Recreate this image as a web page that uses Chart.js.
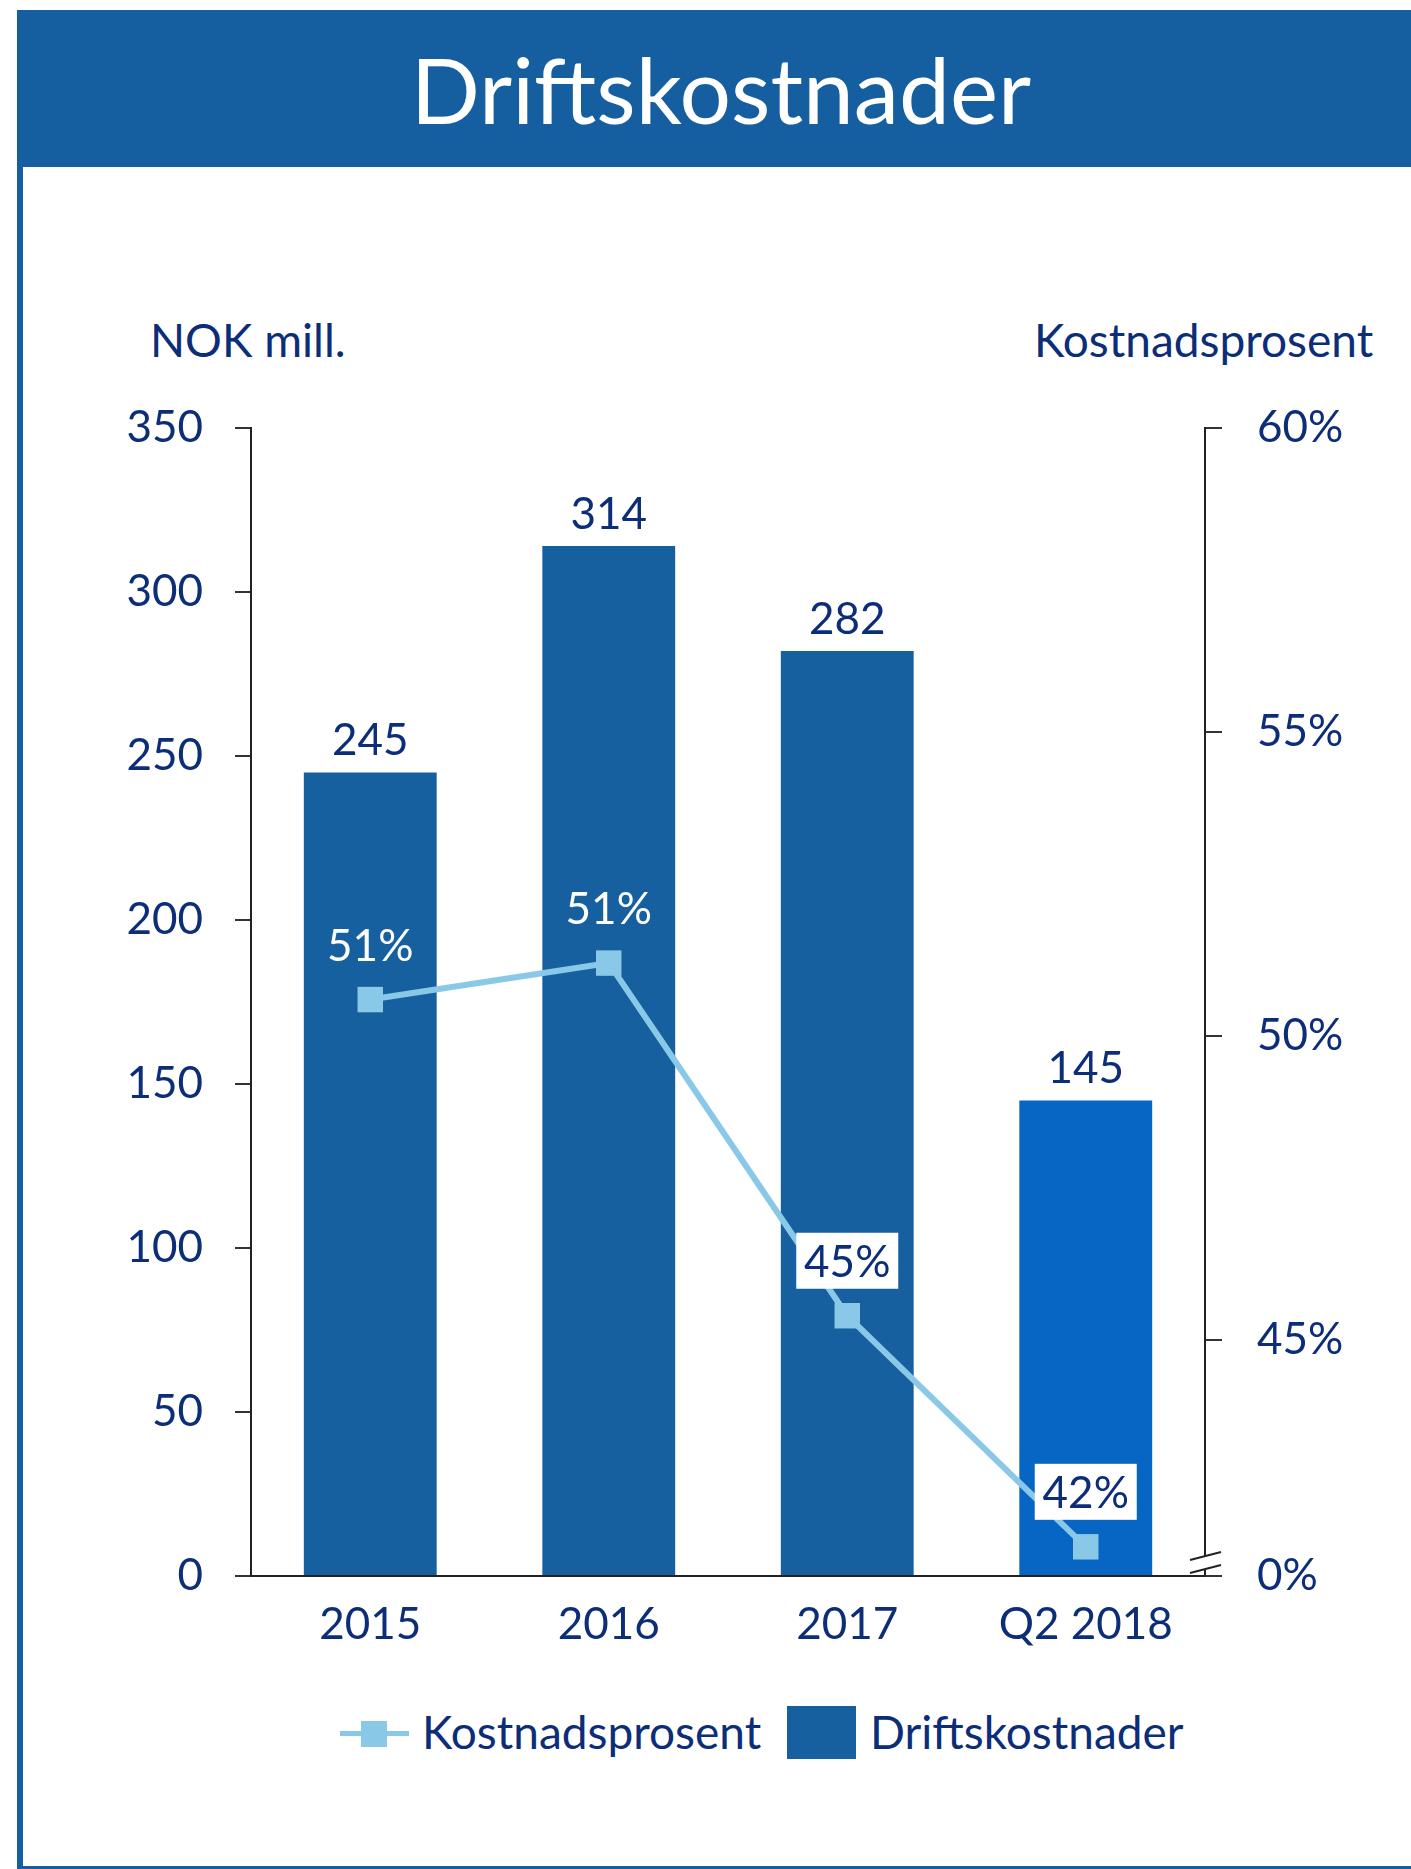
<!DOCTYPE html>
<html>
<head>
<meta charset="utf-8">
<script src="https://cdn.jsdelivr.net/npm/chart.js@4/dist/chart.umd.min.js"></script>
<style>
  html, body { margin: 0; padding: 0; background: #fff; }
  body { width: 1411px; height: 1869px; position: relative; overflow: hidden; font-family: Lato, sans-serif; }
  .header { position: absolute; left: 17px; top: 10px; width: 1394px; height: 157px; background: #155fa0; }
  .header span { position: absolute; left: 0; right: 0; top: 33px; padding-left: 14px; text-align: center;
                 color: #fff; font-size: 91px; line-height: 1; }
  .frame-left { position: absolute; left: 17px; top: 167px; width: 6px; height: 1702px; background: #155fa0; }
  .frame-bottom { position: absolute; left: 17px; top: 1866px; width: 1394px; height: 3px; background: #155fa0; }
  .txt { position: absolute; color: #0c2d78; font-size: 46px; line-height: 1; white-space: nowrap; }
  .lg-line { position: absolute; left: 340px; top: 1731px; width: 69px; height: 5px; background: #89c8e6; }
  .lg-sq { position: absolute; left: 361px; top: 1721px; width: 26px; height: 26px; background: #89c8e6; }
  .lg-box { position: absolute; left: 787px; top: 1706px; width: 69px; height: 53px; background: #1660a0; }
  canvas { position: absolute; left: 0; top: 0; }
</style>
</head>
<body>
<div class="header"><span>Driftskostnader</span></div>
<div class="frame-left"></div>
<div class="frame-bottom"></div>
<div class="txt" style="left:150px; top:317px;">NOK mill.</div>
<div class="txt" style="left:1034px; top:317px;">Kostnadsprosent</div>
<div class="lg-line"></div><div class="lg-sq"></div>
<div class="txt" style="left:422px; top:1709px;">Kostnadsprosent</div>
<div class="lg-box"></div>
<div class="txt" style="left:870px; top:1709px;">Driftskostnader</div>
<canvas id="chart" width="1411" height="1869"></canvas>
<script>
// data
const categories = ['2015', '2016', '2017', 'Q2 2018'];
const driftskostnader = [245, 314, 282, 145];          // NOK mill.
const kostnadsprosent = [50.6, 51.2, 45.4, 41.6];     // percent
const leftTicks = [0, 50, 100, 150, 200, 250, 300, 350];
const rightTicks = [45, 50, 55, 60];
const rightAxisBreak = 41.12;  // bottom of the broken right axis, shown as 0%

const NAVY = '#0c2d78';
const FONT = { family: 'Lato', size: 44 };

const valueLabels = {
  id: 'valueLabels',
  afterDatasetsDraw(chart) {
    const ctx = chart.ctx;
    ctx.save();
    ctx.font = '44px Lato';
    ctx.textAlign = 'center';
    ctx.textBaseline = 'alphabetic';

    // bar values above each bar
    const bars = chart.getDatasetMeta(1).data;
    bars.forEach((bar, i) => {
      ctx.fillStyle = NAVY;
      ctx.fillText(String(driftskostnader[i]), bar.x, bar.y - 17);
    });

    // percentages above the line points
    const pts = chart.getDatasetMeta(0).data;
    pts.forEach((pt, i) => {
      const cy = pt.y - 55;
      const boxed = i >= 2;
      if (boxed) {
        ctx.fillStyle = '#ffffff';
        ctx.fillRect(pt.x - 51, cy - 28, 102, 56);
      }
      ctx.fillStyle = boxed ? NAVY : '#ffffff';
      ctx.fillText(Math.round(kostnadsprosent[i]) + '%', pt.x, cy + 16);
    });
    ctx.restore();
  }
};

const axisBreak = {
  id: 'axisBreak',
  afterDraw(chart) {
    const ctx = chart.ctx;
    const x = chart.chartArea.right;
    const b = chart.chartArea.bottom;
    ctx.save();
    ctx.fillStyle = '#ffffff';
    ctx.beginPath();
    ctx.moveTo(x - 15, b - 16);
    ctx.lineTo(x + 16, b - 24);
    ctx.lineTo(x + 16, b - 11);
    ctx.lineTo(x - 15, b - 3);
    ctx.closePath();
    ctx.fill();
    ctx.strokeStyle = '#222';
    ctx.lineWidth = 2;
    ctx.beginPath();
    ctx.moveTo(x - 15, b - 16); ctx.lineTo(x + 16, b - 24);
    ctx.moveTo(x - 15, b - 3);  ctx.lineTo(x + 16, b - 11);
    ctx.stroke();
    ctx.restore();
  }
};

new Chart(document.getElementById('chart'), {
  type: 'bar',
  data: {
    labels: categories,
    datasets: [
      {
        type: 'line',
        label: 'Kostnadsprosent',
        data: kostnadsprosent,
        yAxisID: 'y1',
        order: 0,
        borderColor: '#89c8e6',
        borderWidth: 6,
        tension: 0,
        pointStyle: 'rect',
        pointRadius: 18,
        pointBackgroundColor: '#89c8e6',
        pointBorderWidth: 0
      },
      {
        type: 'bar',
        label: 'Driftskostnader',
        data: driftskostnader,
        yAxisID: 'y',
        order: 1,
        backgroundColor: ['#1660a0', '#1660a0', '#1660a0', '#0766c4'],
        categoryPercentage: 1,
        barPercentage: 0.557
      }
    ]
  },
  options: {
    responsive: false,
    animation: false,
    layout: { padding: { left: 0, right: 0, top: 428, bottom: 193 } },
    plugins: { legend: { display: false }, tooltip: { enabled: false } },
    scales: {
      x: {
        grid: { display: false, drawTicks: false },
        border: { display: true, color: '#222', width: 2 },
        ticks: { color: NAVY, font: FONT, padding: 22 },
        afterFit: s => { s.height = 100; }
      },
      y: {
        position: 'left',
        min: 0,
        max: 350,
        afterBuildTicks: s => { s.ticks = leftTicks.map(v => ({ value: v })); },
        grid: { drawOnChartArea: false, drawTicks: true, tickLength: 16, color: '#333', lineWidth: 2 },
        border: { display: true, color: '#222', width: 2 },
        ticks: { color: NAVY, font: FONT, padding: 32 },
        afterFit: s => { s.width = 251; }
      },
      y1: {
        position: 'right',
        min: rightAxisBreak,
        max: 60,
        afterBuildTicks: s => {
          s.ticks = [rightAxisBreak, ...rightTicks].map(v => ({ value: v }));
        },
        grid: { drawOnChartArea: false, drawTicks: true, tickLength: 17, color: '#333', lineWidth: 2 },
        border: { display: true, color: '#222', width: 2 },
        ticks: {
          color: NAVY, font: FONT, padding: 35,
          callback: v => (v === rightAxisBreak ? '0%' : v + '%')
        },
        afterFit: s => { s.width = 206; }
      }
    }
  },
  plugins: [valueLabels, axisBreak]
});
</script>
</body>
</html>
